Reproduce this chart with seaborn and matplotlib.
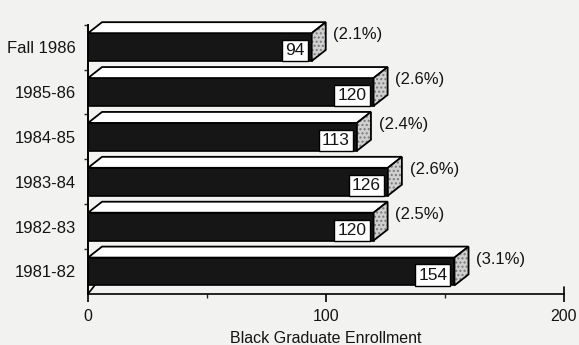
import matplotlib
matplotlib.use("Agg")
import matplotlib.pyplot as plt
import seaborn as sns
import pandas as pd
from matplotlib.patches import Polygon

categories = ["Fall 1986", "1985-86", "1984-85", "1983-84", "1982-83", "1981-82"]
enrollment = [94, 120, 113, 126, 120, 154]
percent_labels = ["(2.1%)", "(2.6%)", "(2.4%)", "(2.6%)", "(2.5%)", "(3.1%)"]
xticks = [0, 100, 200]
xtick_labels = ["0", "100", "200"]
xlabel = "Black Graduate Enrollment"

sns.set_style("ticks")
plt.rcParams["font.family"] = ["Liberation Sans", "DejaVu Sans"]

BG = "#f2f2f0"
INK = "#141414"
fig = plt.figure(figsize=(5.79, 3.45), dpi=100, facecolor=BG)
ax = fig.add_axes([0.152, 0.148, 0.822, 0.817])
ax.set_facecolor(BG)

df = pd.DataFrame({"cat": categories, "val": enrollment})
sns.barplot(data=df, x="val", y="cat", order=categories, orient="h",
            color="#161616", width=0.62, edgecolor="black", linewidth=1.2,
            saturation=1, ax=ax)

ax.set_xlim(0, 200)
ax.set_ylim(5.5, -0.78)

# 3D depth in data units
dx = 5.9
dy = 0.245

for patch, val, pct in zip(ax.patches, enrollment, percent_labels):
    x0 = patch.get_x()
    w = patch.get_width()
    y0 = patch.get_y()
    h = patch.get_height()
    top = y0
    bot = y0 + h
    xe = x0 + w
    # top face
    ax.add_patch(Polygon([(x0, top), (xe, top), (xe + dx, top - dy), (x0 + dx, top - dy)],
                         closed=True, facecolor="white", edgecolor="black",
                         linewidth=1.3, zorder=3))
    # side face: stippled fill, then outline
    side = [(xe, top), (xe, bot), (xe + dx, bot - dy), (xe + dx, top - dy)]
    ax.add_patch(Polygon(side, closed=True, facecolor="#d0d0d0", edgecolor="#7a7a7a",
                         linewidth=0, hatch="....", zorder=3))
    ax.add_patch(Polygon(side, closed=True, facecolor="none", edgecolor="black",
                         linewidth=1.3, zorder=4))
    # value box
    yc = y0 + h / 2
    ax.text(xe - 3.0, yc + 0.08, str(val), ha="right", va="center", fontsize=12.5,
            color=INK, zorder=5,
            bbox=dict(boxstyle="square,pad=0.18", facecolor="white",
                      edgecolor="black", linewidth=1.0))
    # percent label
    ax.text(xe + dx + 3.2, yc - 0.27, pct, ha="left", va="center",
            fontsize=12, color=INK, zorder=5)

# floor right edge stroke and left floor diagonal
ax.plot([200, 200], [5.5, 5.5 - 0.16], color="black", lw=1.2, clip_on=False)
ax.plot([0, dx * 0.5], [5.5, 5.5 - 0.2], color="black", lw=1.2, clip_on=False)

# axes styling
for s in ["top", "right"]:
    ax.spines[s].set_visible(False)
ax.spines["left"].set_bounds(5.5, -0.5)
ax.spines["left"].set_linewidth(1.4)
ax.spines["bottom"].set_linewidth(1.2)
ax.spines["left"].set_color("black")
ax.spines["bottom"].set_color("black")

ax.set_xticks(xticks)
ax.set_xticklabels(xtick_labels, fontsize=11.5)
ax.set_xticks([50, 150], minor=True)
ax.tick_params(axis="x", which="major", length=6, width=1.2, direction="out",
               pad=5, colors="black", labelcolor=INK)
ax.tick_params(axis="x", which="minor", length=3, width=1.0, direction="out")

ax.tick_params(axis="y", which="major", length=0, pad=9, labelsize=12, labelcolor=INK)
ax.set_yticks([-0.5, 0.5, 1.5, 2.5, 3.5, 4.5], minor=True)
ax.tick_params(axis="y", which="minor", length=3, width=1.0, direction="out")

ax.set_ylabel("")
ax.set_xlabel(xlabel, fontsize=11.5, color=INK, labelpad=5)

fig.savefig("out.png", dpi=100, facecolor=BG)
